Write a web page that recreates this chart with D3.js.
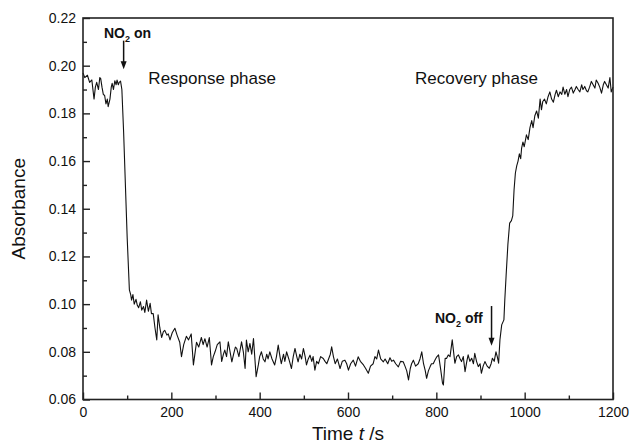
<!DOCTYPE html>
<html><head><meta charset="utf-8">
<script src="https://cdn.jsdelivr.net/npm/d3@7"></script>
<style>body{margin:0;background:#fff}svg{display:block}text{font-family:"Liberation Sans",Arial,sans-serif}</style>
</head><body><svg id="c" width="631" height="448"></svg>
<script>
const timeS = [0,4,10,15,20,25,28,31,35,38,40,43,46,49,52,55,57,61,64,66,69,72,75,77,80,82,85,88,92,96,100,105,108,110,113,116,120,123,126,130,133,137,140,144,148,152,155,159,163,167,170,174,178,182,185,190,193,197,202,208,213,219,223,228,234,239,245,250,254,257,262,268,272,276,281,286,291,295,299,304,310,314,318,321,325,329,333,337,341,345,348,353,359,363,367,370,374,378,382,386,392,397,400,404,408,412,416,419,423,428,434,438,442,446,449,454,457,461,466,472,476,480,484,487,491,495,499,503,506,510,514,518,521,525,529,533,538,544,548,552,556,560,563,567,571,576,582,587,593,597,601,606,612,617,623,628,635,640,646,651,657,661,665,669,674,680,684,690,695,699,703,708,714,719,725,729,733,737,741,744,748,753,759,763,767,771,775,778,782,786,789,793,797,801,805,810,814,816,820,823,827,831,836,842,846,850,854,857,861,865,869,872,876,880,884,887,891,895,899,902,906,910,915,920,924,927,931,935,938,941,944,948,953,955,958,962,966,970,973,976,979,982,985,988,991,993,996,999,1004,1008,1012,1016,1019,1023,1027,1031,1035,1038,1041,1045,1049,1053,1057,1061,1065,1069,1072,1076,1080,1084,1087,1091,1095,1098,1102,1106,1110,1114,1117,1121,1125,1129,1132,1136,1140,1143,1147,1151,1155,1159,1162,1166,1170,1174,1178,1181,1185,1189,1193,1196,1200];
const absorbance = [0.197,0.195,0.196,0.193,0.194,0.186,0.191,0.193,0.190,0.195,0.1947,0.191,0.188,0.1875,0.184,0.186,0.1828,0.186,0.191,0.1926,0.190,0.1937,0.192,0.194,0.192,0.193,0.1935,0.190,0.172,0.150,0.128,0.106,0.104,0.1017,0.104,0.100,0.102,0.0995,0.0985,0.101,0.0975,0.099,0.0965,0.1017,0.097,0.1003,0.096,0.096,0.090,0.085,0.0955,0.090,0.086,0.0885,0.089,0.087,0.0875,0.085,0.088,0.0899,0.087,0.084,0.078,0.083,0.0865,0.085,0.0875,0.0745,0.080,0.084,0.082,0.086,0.083,0.0855,0.082,0.086,0.0745,0.078,0.080,0.083,0.0842,0.076,0.079,0.0807,0.078,0.0842,0.080,0.0758,0.079,0.082,0.0814,0.078,0.0842,0.080,0.073,0.0849,0.080,0.0835,0.079,0.0856,0.0696,0.0745,0.078,0.080,0.077,0.0758,0.079,0.077,0.080,0.077,0.0745,0.078,0.0828,0.078,0.075,0.079,0.076,0.080,0.077,0.073,0.078,0.0814,0.078,0.0758,0.079,0.077,0.0814,0.078,0.0745,0.077,0.0786,0.076,0.078,0.0723,0.076,0.075,0.078,0.0772,0.076,0.075,0.077,0.079,0.0821,0.078,0.075,0.077,0.073,0.076,0.0765,0.075,0.0723,0.075,0.0765,0.074,0.0779,0.076,0.0745,0.073,0.071,0.074,0.075,0.078,0.077,0.0807,0.077,0.0758,0.077,0.075,0.0775,0.076,0.0765,0.075,0.0737,0.076,0.0758,0.074,0.072,0.0682,0.073,0.075,0.0765,0.074,0.075,0.077,0.080,0.075,0.072,0.0689,0.072,0.0738,0.075,0.075,0.0766,0.0779,0.0787,0.0724,0.0668,0.0661,0.0773,0.0772,0.0787,0.078,0.085,0.0752,0.078,0.0787,0.077,0.0759,0.078,0.0717,0.076,0.0787,0.076,0.0773,0.075,0.0794,0.076,0.0738,0.075,0.0710,0.074,0.0759,0.074,0.0731,0.075,0.0773,0.076,0.080,0.078,0.0752,0.085,0.0913,0.0934,0.1017,0.112,0.125,0.134,0.135,0.137,0.148,0.155,0.158,0.160,0.163,0.161,0.1653,0.168,0.166,0.171,0.169,0.174,0.177,0.174,0.179,0.181,0.178,0.186,0.1815,0.185,0.186,0.184,0.187,0.189,0.186,0.1847,0.188,0.1897,0.187,0.189,0.188,0.191,0.188,0.190,0.187,0.190,0.191,0.1885,0.190,0.1913,0.190,0.189,0.192,0.190,0.1913,0.1895,0.189,0.191,0.1934,0.192,0.1906,0.194,0.1927,0.191,0.1885,0.192,0.1934,0.192,0.1906,0.195,0.189,0.191];
const xMajorTicks = [0,200,400,600,800,1000,1200];
const xMinorTicks = [100,300,500,700,900,1100];
const yMajorTicks = [0.06,0.08,0.10,0.12,0.14,0.16,0.18,0.20,0.22];
const yMinorTicks = [0.07,0.09,0.11,0.13,0.15,0.17,0.19,0.21];
const annotations = [
  {label:"NO", sub:"2", rest:" on", t:92, v:0.2138, arrowFrom:0.2105, arrowTo:0.1985, tx:104, ty:38},
  {label:"NO", sub:"2", rest:" off", t:925, v:0.0925, arrowFrom:0.0992, arrowTo:0.0825, tx:435, ty:323}
];
const phaseLabels = [{text:"Response phase", t:148, v:0.1925, anchor:"start"},{text:"Recovery phase", t:1030, v:0.1925, anchor:"end"}];

const svg = d3.select("#c");
const L=83, R=613, T=18, B=399.5;
const x = d3.scaleLinear().domain([0,1200]).range([L,R]);
const y = d3.scaleLinear().domain([0.06,0.22]).range([B,T]);

// line
svg.append("path")
  .datum(timeS.map((t,i)=>[t,absorbance[i]]))
  .attr("fill","none").attr("stroke","#111").attr("stroke-width",1.1).attr("stroke-linejoin","round")
  .attr("d", d3.line().x(d=>x(d[0])).y(d=>y(d[1])));

// axes
const ax = svg.append("g").attr("transform",`translate(0,${B})`)
  .call(d3.axisBottom(x).tickValues(xMajorTicks).tickSizeInner(-7).tickSizeOuter(0).tickPadding(8).tickFormat(d3.format("d")));
svg.append("g").attr("transform",`translate(0,${B})`)
  .call(d3.axisBottom(x).tickValues(xMinorTicks).tickSizeInner(-4).tickSizeOuter(0).tickFormat(""));
const ay = svg.append("g").attr("transform",`translate(${L},0)`)
  .call(d3.axisLeft(y).tickValues(yMajorTicks).tickSizeInner(-7).tickSizeOuter(0).tickPadding(7).tickFormat(d3.format(".2f")));
svg.append("g").attr("transform",`translate(${L},0)`)
  .call(d3.axisLeft(y).tickValues(yMinorTicks).tickSizeInner(-4).tickSizeOuter(0).tickFormat(""));
svg.selectAll(".domain").remove();
svg.selectAll(".tick line").attr("stroke","#222").attr("stroke-width",1.4);
svg.selectAll(".tick text").attr("font-size",14).attr("fill","#111").attr("font-family","Liberation Sans, Arial, sans-serif");

// frame
svg.append("rect").attr("x",L).attr("y",T).attr("width",R-L).attr("height",B-T)
  .attr("fill","none").attr("stroke","#222").attr("stroke-width",1.6);

// axis titles
svg.append("text").attr("transform",`translate(25,${(T+B)/2}) rotate(-90)`).attr("text-anchor","middle")
  .attr("font-size",19).attr("fill","#111").text("Absorbance");
const xt = svg.append("text").attr("x",(L+R)/2).attr("y",440).attr("text-anchor","middle").attr("font-size",19).attr("fill","#111");
xt.append("tspan").text("Time ");
xt.append("tspan").attr("font-style","italic").text("t");
xt.append("tspan").text(" /s");

// phase labels
phaseLabels.forEach(p=>{
  svg.append("text").attr("x",x(p.t)).attr("y",y(p.v)).attr("text-anchor",p.anchor)
    .attr("font-size",17).attr("fill","#111").text(p.text);
});

// annotations with arrows
annotations.forEach(a=>{
  const tx = svg.append("text").attr("x",a.tx).attr("y",a.ty).attr("font-size",14).attr("font-weight","bold").attr("fill","#111");
  tx.append("tspan").text(a.label);
  tx.append("tspan").attr("font-size",9).attr("dy",4).text(a.sub);
  tx.append("tspan").attr("dy",-4).text(a.rest);
  const ax0 = x(a.t), y0 = y(a.arrowFrom), y1 = y(a.arrowTo);
  svg.append("line").attr("x1",ax0).attr("x2",ax0).attr("y1",y0).attr("y2",y1-6).attr("stroke","#111").attr("stroke-width",1.5);
  svg.append("path").attr("d",`M${ax0-3},${y1-8}L${ax0+3},${y1-8}L${ax0},${y1}Z`).attr("fill","#111");
});
</script></body></html>
